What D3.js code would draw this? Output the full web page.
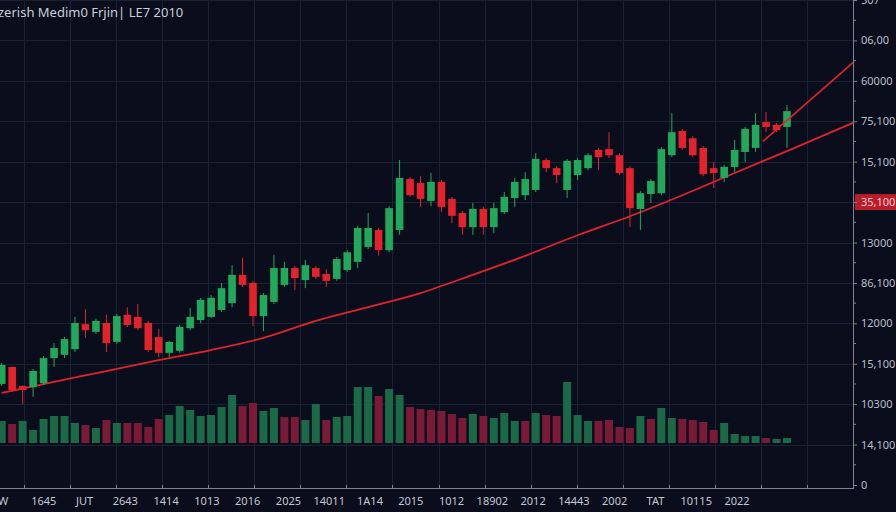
<!DOCTYPE html>
<html>
<head>
<meta charset="utf-8">
<script src="https://cdn.jsdelivr.net/npm/d3@7"></script>
<style>
  html, body { margin: 0; padding: 0; background: #0a0e1c; }
  svg { display: block; font-family: "Noto Sans", "DejaVu Sans", sans-serif; }
</style>
</head>
<body>
<div id="chart"></div>
<script>
// candle data, one entry per session
const opens = [250,292,245,242,252,314,322,336,398,379, 401,354,421,416,401,366,327,332,388,408,
  416,433,450,520,500,418,453,495,537,507, 537,522,510,532,552,589,631,581,631,757,
  747,703,750,708,673,638,683,638,675,710, 717,730,804,784,730,767,784,829,831,816,
  784,683,720,722,816,876,858,834,784,760, 787,824,834,898,891,886]
const closes = [297,235,235,282,314,339,361,401,383,406, 351,418,396,388,334,327,354,391,416,458,
  463,487,520,495,418,470,537,537,512,544, 515,505,559,576,636,636,581,685,760,717,
  708,750,688,666,638,683,638,685,713,750, 757,807,784,767,802,804,816,811,816,772,
  685,722,752,831,873,834,816,769,772,787, 829,881,891,886,878,925]
const highs = [302,294,247,287,319,351,366,416,435,411, 421,423,440,448,406,386,356,396,438,463,
  470,500,544,562,505,475,569,552,542,557, 542,534,564,581,641,673,636,690,804,762,
  764,772,755,713,678,698,688,698,725,760, 774,821,809,789,807,809,821,834,873,821,
  789,727,757,836,920,881,863,839,799,792, 854,886,920,923,896,940]
const lows = [245,230,200,218,247,292,314,329,364,374, 329,349,391,383,329,317,317,327,383,401,
  413,428,440,490,393,381,448,490,482,487, 510,490,505,527,537,584,567,576,619,713,
  688,690,675,648,619,619,619,623,670,688, 705,725,774,747,710,755,779,779,809,767,
  638,631,698,717,811,829,811,764,735,750, 774,799,824,873,873,834]

// volume (thousands) and its colour side, g = up, r = down
const volumes = [22,19,22,13,24,27,27,20,18,15, 23,20,20,20,16,24,28,37,33,27,
  28,36,48,37,40,32,35,26,26,23, 39,23,26,27,56,56,47,54,48,36,
  34,33,32,29,25,29,27,25,30,22, 22,30,28,27,61,28,22,22,23,16,
  15,27,24,35,25,24,23,21,13,20, 9,7,7,5,4,5]
const volumeSide = "grggggggrg" + "rgrrrrgggg" + "gggrrggrrg" + "grggggrggr" +
  "rrrrrgrggg" + "rgrrgggrrr" + "rgrggrrrrg" + "gggrgg"

// moving average line (session index, price)
const maIndex = [0,5,10,15,20,25,30,35,40,45,50,55,60,65,70,75,81.3]
const maValues = [228,255,282,309,334,364,406,440,475,520,567,618,665,717,772,826,896]
// short upper trend line
const trendIndex = [72.7, 81.3]
const trendValues = [850, 1045]

const dateLabels = ["W","1645","JUT","2643","1414","1013","2016","2025","14011","1A14",
  "2015","1012","18902","2012","14443","2002","TAT","10115","2022"]
const priceTicks = [0,100,200,300,400,500,600,700,800,900,1000,1100,1200]
const priceLabels = ["0","14,100","10300","15,100","12000","86,100","13000","35,100",
  "15,100","75,100","60000","06,00","507"]
const markedPrice = 700
const title = "zerish Medim0 Frjin| LE7 2010"

const width = 896
const height = 512
const axisX = 853
const axisY = 488

const data = opens.map((o, i) => ({
  i, open: o, close: closes[i], high: highs[i], low: lows[i],
  vol: volumes[i], volUp: volumeSide[i] === "g"
}))

const x = d3.scaleLinear().domain([0, opens.length - 1]).range([1.7, 787])
const y = d3.scaleLinear().domain([0, 1200]).range([485, 0])
const yVol = d3.scaleLinear().domain([0, 70]).range([443, 373])
const xLabel = d3.scalePoint().domain(dateLabels).range([3, 737])
const xGrid = d3.scaleLinear().domain([0, 17]).range([24, 807])

const green = "#22a85b", red = "#e3222c"
const volGreen = "#1a6a47", volRed = "#7b1a36"

const svg = d3.select("#chart").append("svg")
  .attr("width", width)
  .attr("height", height)

svg.append("rect").attr("width", width).attr("height", height).attr("fill", "#0a0e1c")

// grid
svg.append("g").selectAll("line")
  .data(priceTicks.filter(d => d > 0))
  .join("line")
  .attr("x1", 0).attr("x2", axisX)
  .attr("y1", d => Math.round(y(d)) + 0.5).attr("y2", d => Math.round(y(d)) + 0.5)
  .attr("stroke", "#1b2233")
  .attr("stroke-width", 1)

svg.append("g").selectAll("line")
  .data(d3.range(18))
  .join("line")
  .attr("x1", d => Math.round(xGrid(d)) + 0.5).attr("x2", d => Math.round(xGrid(d)) + 0.5)
  .attr("y1", 0).attr("y2", axisY)
  .attr("stroke", "#1b2233")
  .attr("stroke-width", 1)

// volume bars
svg.append("g").selectAll("rect")
  .data(data)
  .join("rect")
  .attr("x", d => x(d.i) - 4)
  .attr("width", 8)
  .attr("y", d => yVol(d.vol))
  .attr("height", d => yVol(0) - yVol(d.vol))
  .attr("fill", d => d.volUp ? volGreen : volRed)

// moving average lines
const line = d3.line().x(d => x(d[0])).y(d => y(d[1])).curve(d3.curveMonotoneX)
svg.append("path")
  .datum(maIndex.map((d, k) => [d, maValues[k]]))
  .attr("d", line)
  .attr("fill", "none")
  .attr("stroke", "#e2232d")
  .attr("stroke-width", 1.8)

// candles
const candles = svg.append("g").selectAll("g")
  .data(data)
  .join("g")

candles.append("line")
  .attr("x1", d => x(d.i)).attr("x2", d => x(d.i))
  .attr("y1", d => y(d.high)).attr("y2", d => y(d.low))
  .attr("stroke", d => d.close >= d.open ? green : red)
  .attr("stroke-width", 1)

candles.append("rect")
  .attr("x", d => x(d.i) - 3.8)
  .attr("width", 7.6)
  .attr("y", d => y(Math.max(d.open, d.close)))
  .attr("height", d => Math.max(2, Math.abs(y(d.open) - y(d.close))))
  .attr("fill", d => d.close >= d.open ? green : red)

svg.append("path")
  .datum(trendIndex.map((d, k) => [d, trendValues[k]]))
  .attr("d", d3.line().x(d => x(d[0])).y(d => y(d[1])))
  .attr("fill", "none")
  .attr("stroke", "#e2232d")
  .attr("stroke-width", 1.6)

// right axis
const yAxis = d3.axisRight(y)
  .tickValues(priceTicks)
  .tickSize(4)
  .tickPadding(4)
  .tickFormat((d, k) => priceLabels[k])

const gy = svg.append("g")
  .attr("transform", `translate(${axisX},0)`)
  .call(yAxis)
gy.select(".domain").attr("stroke", "#7c8394").attr("d", `M0.5,0V${axisY + 0.5}`)
gy.selectAll(".tick line").attr("stroke", "#7c8394")
gy.selectAll(".tick text")
  .attr("fill", "#b9becb")
  .style("font-size", "11px")
  .style("font-family", "'Noto Sans', sans-serif")

// minor ticks
gy.append("g").selectAll("line")
  .data(priceTicks.slice(0, -1).map(d => d + 50))
  .join("line")
  .attr("x1", 0).attr("x2", 3)
  .attr("y1", d => y(d)).attr("y2", d => y(d))
  .attr("stroke", "#7c8394")

// highlighted price tag
const tag = gy.insert("g", ":first-child")
tag.append("rect")
  .attr("x", 2).attr("y", y(markedPrice) - 8)
  .attr("width", 44).attr("height", 16)
  .attr("fill", "#b81d2c")
gy.selectAll(".tick").filter(d => d === markedPrice).select("text").attr("fill", "#f2c9cc")
gy.selectAll(".tick").raise()

// bottom axis
svg.append("line")
  .attr("x1", 0).attr("x2", axisX + 1)
  .attr("y1", axisY + 0.5).attr("y2", axisY + 0.5)
  .attr("stroke", "#7c8394")

svg.append("g").selectAll("line")
  .data(d3.range(18))
  .join("line")
  .attr("x1", d => Math.round(xGrid(d)) + 0.5).attr("x2", d => Math.round(xGrid(d)) + 0.5)
  .attr("y1", axisY - 3).attr("y2", axisY)
  .attr("stroke", "#7c8394")

svg.append("g").selectAll("text")
  .data(dateLabels)
  .join("text")
  .attr("x", d => xLabel(d))
  .attr("y", 505)
  .attr("text-anchor", "middle")
  .attr("fill", "#c3c7d1")
  .style("font-size", "11px")
  .text(d => d)

// title
svg.append("text")
  .attr("x", -2)
  .attr("y", 17)
  .attr("fill", "#c9cdd8")
  .style("font-size", "13px")
  .text(title)
</script>
</body>
</html>
